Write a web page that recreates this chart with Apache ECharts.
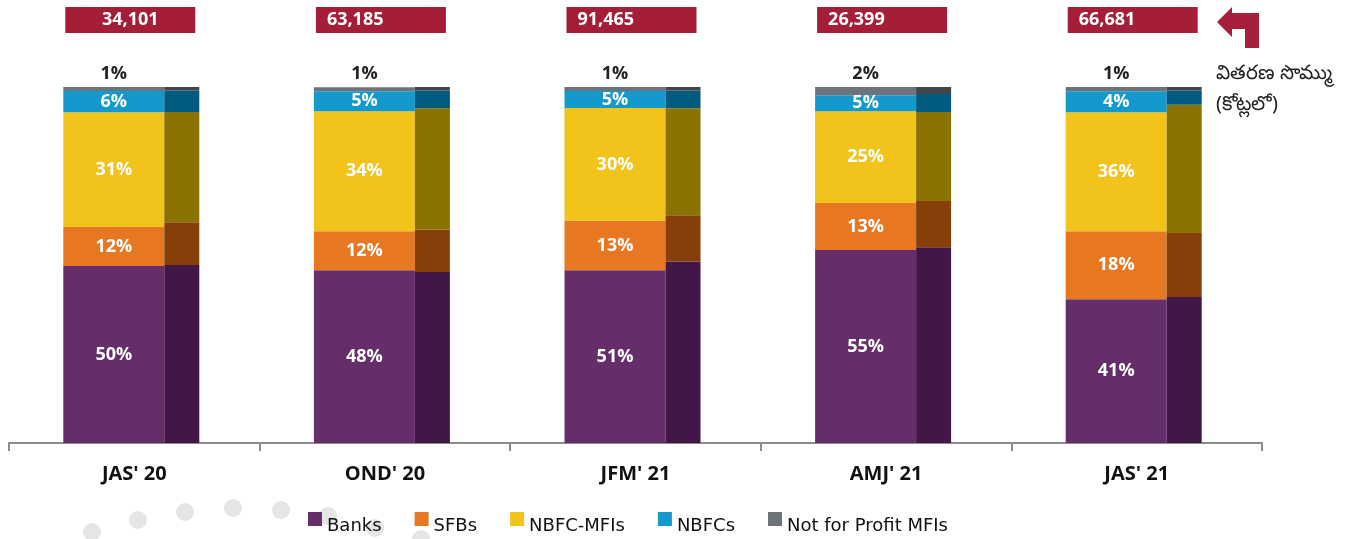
<!DOCTYPE html>
<html>
<head>
<meta charset="utf-8">
<script src="https://cdn.jsdelivr.net/npm/echarts@6/dist/echarts.min.js"></script>
<style>
html, body { margin: 0; padding: 0; background: #fff; }
#mfiChart { width: 1364px; height: 539px; }
</style>
</head>
<body>
<div id="mfiChart"></div>
<script>
// quarters
var quarters = ["JAS' 20", "OND' 20", "JFM' 21", "AMJ' 21", "JAS' 21"];
// disbursement amount (crore)
var totals = ['34,101', '63,185', '91,465', '26,399', '66,681'];

// printed shares (%), also drawn as the dark side bars
var banks = [50, 48, 51, 55, 41];
var sfbs = [12, 12, 13, 13, 18];
var nbfcMfis = [31, 34, 30, 25, 36];
var nbfcs = [6, 5, 5, 5, 4];
var notForProfit = [1, 1, 1, 2, 1];

// front bar heights as drawn in the picture (%)
var banksFront = [49.7, 48.5, 48.5, 54.2, 40.4];
var sfbsFront = [11.0, 11.0, 13.9, 13.2, 19.1];
var nbfcMfisFront = [32.2, 33.7, 31.7, 25.8, 33.4];
var nbfcsFront = [6.0, 5.6, 4.8, 4.5, 5.9];
var notForProfitFront = [1.1, 1.1, 1.2, 2.3, 1.2];

var names = ['Banks', 'SFBs', 'NBFC-MFIs', 'NBFCs', 'Not for Profit MFIs'];
var frontColors = ['#652d6a', '#e87722', '#f1c31b', '#1399cc', '#6c737c'];
var sideColors = ['#431648', '#873f09', '#8a7300', '#005b7e', '#40464c'];

var frontData = [banksFront, sfbsFront, nbfcMfisFront, nbfcsFront, notForProfitFront];
var labelData = [banks, sfbs, nbfcMfis, nbfcs, notForProfit];

var chart = echarts.init(document.getElementById('mfiChart'));

var series = [];
// front stack, with the printed percentages
frontData.forEach(function (arr, i) {
  var last = i === 4;
  series.push({
    name: names[i],
    type: 'bar',
    stack: 'front',
    barWidth: 101,
    barGap: '0%',
    itemStyle: { color: frontColors[i] },
    label: {
      show: true,
      position: last ? 'top' : 'inside',
      distance: 4,
      color: last ? '#222' : '#fff',
      fontFamily: 'Open Sans',
      fontWeight: 'bold',
      fontSize: 18,
      formatter: function (p) { return labelData[i][p.dataIndex] + '%'; }
    },
    data: arr
  });
});
// dark side stack
labelData.forEach(function (arr, i) {
  series.push({
    name: names[i] + ' side',
    type: 'bar',
    stack: 'side',
    barWidth: 35,
    barGap: '0%',
    itemStyle: { color: sideColors[i] },
    data: arr
  });
});
// red total boxes (first one has its number centred, the rest sit to the left)
series.push({
  name: 'total',
  type: 'bar',
  xAxisIndex: 1,
  yAxisIndex: 1,
  barWidth: 130,
  itemStyle: { color: '#a51e37' },
  label: {
    show: true,
    position: 'insideLeft',
    distance: 11,
    color: '#fff',
    fontFamily: 'Open Sans',
    fontWeight: 'bold',
    fontSize: 18,
    formatter: function (p) { return totals[p.dataIndex]; }
  },
  data: totals.map(function (t, i) {
    return i === 0 ? { value: 1, label: { position: 'inside' } } : 1;
  })
});

// grey decoration dots in the lower left
var dots = [[92, 532], [138, 520], [185, 512], [233, 508], [281, 510], [328, 516], [375, 528], [421, 539]];
var graphics = dots.map(function (d) {
  return { type: 'circle', shape: { cx: d[0], cy: d[1], r: 9 }, style: { fill: '#e4e5e5' }, z: -1, silent: true };
});
graphics.push({
  type: 'polygon',
  shape: { points: [[1217, 22], [1232, 7], [1232, 13], [1259, 13], [1259, 48], [1245, 48], [1245, 29], [1232, 29], [1232, 37]] },
  style: { fill: '#a51e3a' }
});
graphics.push({
  type: 'text',
  left: 1216,
  top: 58,
  style: {
    text: 'వితరణ సొమ్ము\n(కోట్లలో)',
    fill: '#222',
    font: '20px "Noto Sans", sans-serif',
    lineHeight: 31
  }
});

chart.setOption({
  animation: false,
  grid: [
    // bars sit a few pixels left of the category centres
    { left: 6, right: 105, top: 87, bottom: 96 },
    { left: 5, right: 106, top: 7, height: 26 },
    // visible category axis
    { left: 9, right: 102, top: 87, bottom: 96 }
  ],
  legend: {
    data: names,
    left: 303,
    top: 507,
    itemWidth: 14,
    itemHeight: 28,
    itemGap: 33,
    // square in the upper half so the text sits lower than the swatch
    icon: 'path://M0,0H14V14H0Z M0,28L0.01,28',
    textStyle: {
      fontFamily: 'DejaVu Sans',
      fontSize: 18,
      lineHeight: 20,
      color: '#111'
    }
  },
  xAxis: [{
    type: 'category',
    data: quarters,
    show: false
  }, {
    type: 'category',
    gridIndex: 1,
    data: quarters,
    show: false
  }, {
    type: 'category',
    gridIndex: 2,
    data: quarters,
    axisLine: { lineStyle: { color: '#8c8c8c', width: 2 } },
    axisTick: { show: true, length: 8, lineStyle: { color: '#8c8c8c', width: 2 } },
    axisLabel: {
      margin: 21,
      color: '#111',
      fontFamily: 'Open Sans',
      fontWeight: 'bold',
      fontSize: 20
    }
  }],
  yAxis: [
    { type: 'value', min: 0, max: 100, show: false },
    { type: 'value', gridIndex: 1, min: 0, max: 1, show: false },
    { type: 'value', gridIndex: 2, min: 0, max: 100, show: false }
  ],
  graphic: graphics,
  series: series
});
</script>
</body>
</html>
